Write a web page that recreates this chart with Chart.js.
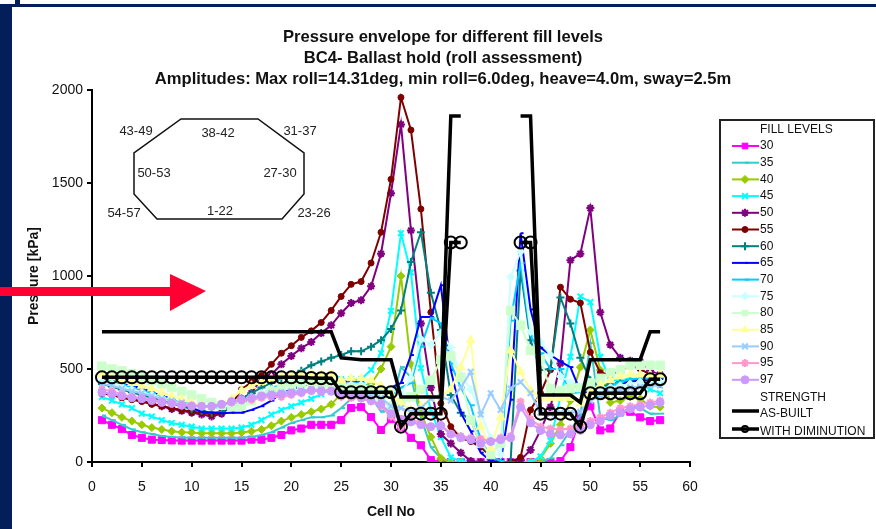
<!DOCTYPE html>
<html>
<head>
<meta charset="utf-8">
<title>Pressure envelope</title>
<script src="https://cdn.jsdelivr.net/npm/chart.js@4"></script>
<style>
    html, body { margin: 0; padding: 0; background: #fff; overflow: hidden; }
    #wrap { position: relative; width: 876px; height: 529px; }
    #myChart { position: absolute; left: 0; top: 0; }
    .navy { position: absolute; background: #041E5A; }
</style>
</head>
<body>
<div id="wrap">
    <div class="navy" style="left:0;top:7px;width:12px;height:522px"></div>
    <div class="navy" style="left:0;top:4px;width:876px;height:3px"></div>
    <div class="navy" style="left:15px;top:0;width:5px;height:4px"></div>
    <canvas id="myChart" width="876" height="529"></canvas>
</div>
<script>
// Номера ячеек и подписи
const cells = Array.from({ length: 57 }, (_, i) => i + 1);
const titleLines = [
    'Pressure envelope for different fill levels',
    'BC4- Ballast hold (roll assessment)',
    'Amplitudes: Max roll=14.31deg, min roll=6.0deg, heave=4.0m, sway=2.5m'
];
const holdLabels = [
    ['43-49', 136, 131], ['38-42', 218, 133], ['31-37', 300, 131], ['50-53', 154, 173],
    ['27-30', 280, 173], ['54-57', 124, 213], ['1-22', 220, 211], ['23-26', 314, 213]
];

// Значения давления
const fill30 = [
    225, 200, 177, 145, 130, 120, 118, 116, 115, 115,
    115, 115, 115, 115, 115, 120, 120, 130, 145, 170,
    180, 200, 200, 200, 225, 290, 295, 242, 172, 230,
    190, 130, 90, 10, 0, 0, 0, 0, 0, 0,
    0, 0, 0, 0, 0, 0, 5, 80, 240, 300,
    170, 180, 270, 270, 240, 220, 225
];
const fill35 = [
    250, 225, 200, 175, 160, 150, 140, 135, 132, 130,
    130, 130, 130, 130, 130, 135, 145, 160, 185, 210,
    225, 240, 240, 250, 290, 340, 360, 350, 270, 300,
    510, 455, 240, 80, 20, 0, 0, 0, 0, 0,
    0, 0, 0, 0, 0, 20, 90, 170, 250, 640,
    240, 225, 250, 300, 290, 260, 260
];
const fill40 = [
    290, 265, 240, 220, 200, 185, 175, 165, 160, 158,
    155, 155, 155, 155, 158, 165, 175, 195, 220, 240,
    255, 270, 285, 310, 365, 400, 400, 420, 500, 620,
    1000, 525, 263, 135, 20, 0, 0, 0, 0, 0,
    0, 0, 0, 0, 20, 100, 200, 330, 510, 710,
    495, 320, 330, 350, 340, 300, 295
];
const fill45 = [
    350, 330, 310, 290, 260, 245, 225, 210, 200, 190,
    180, 180, 180, 180, 185, 200, 225, 255, 280, 300,
    320, 340, 365, 390, 445, 445, 445, 495, 585, 812,
    1230, 1020, 505, 280, 135, 25, 5, 0, 0, 0,
    0, 0, 0, 0, 30, 115, 350, 565, 890, 860,
    565, 440, 440, 450, 420, 390, 370
];
const fill50 = [
    370, 365, 350, 340, 330, 315, 300, 285, 275, 265,
    255, 245, 260, 300, 340, 370, 450, 470, 525, 570,
    612, 645, 693, 735, 800, 855, 870, 945, 1120, 1445,
    1815, 1245, 745, 400, 150, 100, 50, 5, 0, 0,
    0, 0, 10, 65, 170, 295, 530, 1085, 1120, 1365,
    805, 630, 560, 545, 540, 490, 470
];
const fill55 = [
    370, 360, 345, 335, 325, 310, 300, 290, 280, 270,
    265, 255, 265, 310, 390, 430, 465, 525, 585, 625,
    670, 705, 750, 815, 890, 955, 970, 1070, 1235, 1520,
    1960, 1785, 1360, 805, 315, 190, 130, 110, 80, 30,
    0, 0, 25, 280, 370, 495, 940, 875, 855, 590,
    480, 470, 490, 520, 500, 470, 450
];
const fill60 = [
    420, 405, 390, 375, 360, 345, 330, 315, 300, 285,
    275, 265, 270, 300, 340, 370, 400, 425, 450, 470,
    490, 520, 540, 560, 575, 595, 595, 620, 655, 715,
    815, 1075, 1235, 910, 710, 360, 265, 225, 100, 30,
    0, 0, 1030, 655, 495, 500, 885, 745, 560, 440,
    400, 420, 430, 440, 440, 430, 420
];
const fill65 = [
    450, 440, 420, 410, 395, 375, 355, 340, 310, 290,
    270, 265, 262, 265, 265, 280, 300, 330, 370, 390,
    410, 420, 430, 430, 430, 435, 430, 390, 320, 400,
    425, 575, 780, 780, 950, 495, 265, 165, 50, 5,
    0, 335, 1230, 820, 615, 575, 540, 510, 380, 370,
    380, 390, 420, 430, 440, 440, 445
];
const fill70 = [
    450, 435, 420, 400, 385, 370, 350, 335, 320, 310,
    300, 295, 290, 295, 310, 335, 365, 395, 420, 430,
    440, 440, 440, 430, 420, 420, 425, 400, 350, 350,
    400, 425, 620, 775, 745, 530, 400, 305, 120, 30,
    5, 760, 1070, 680, 585, 500, 500, 370, 375, 400,
    390, 410, 430, 445, 450, 450, 455
];
const fill75 = [
    430, 420, 405, 390, 375, 360, 345, 330, 315, 305,
    300, 300, 300, 310, 330, 350, 370, 390, 405, 415,
    420, 420, 420, 415, 415, 415, 415, 400, 385, 385,
    370, 450, 660, 630, 695, 615, 470, 390, 260, 130,
    40, 995, 1130, 700, 645, 575, 460, 430, 400, 400,
    390, 400, 410, 420, 430, 430, 430
];
const fill80 = [
    515, 500, 490, 475, 460, 440, 420, 400, 380, 360,
    340, 320, 305, 300, 300, 330, 355, 380, 400, 415,
    420, 430, 420, 420, 410, 400, 400, 385, 350, 300,
    320, 350, 390, 440, 550, 570, 455, 225, 100, 40,
    100, 815, 735, 600, 550, 395, 385, 395, 400, 425,
    450, 480, 495, 520, 520, 520, 520
];
const fill85 = [
    470, 455, 440, 425, 410, 395, 375, 355, 340, 320,
    305, 300, 310, 340, 385, 410, 430, 450, 460, 470,
    470, 475, 470, 470, 440, 450, 450, 440, 410, 370,
    315, 280, 300, 340, 360, 390, 510, 655, 190, 75,
    240, 600, 485, 385, 345, 345, 345, 345, 315, 375,
    415, 440, 460, 470, 470, 470, 470
];
const fill90 = [
    420, 410, 395, 380, 370, 355, 340, 330, 320, 305,
    300, 295, 305, 320, 335, 345, 360, 370, 375, 380,
    385, 390, 390, 385, 370, 365, 360, 355, 345, 300,
    290, 270, 290, 340, 350, 330, 400, 485, 255, 370,
    280, 395, 430, 370, 265, 260, 265, 265, 270, 330,
    350, 370, 390, 400, 405, 410, 410
];
const fill95 = [
    390, 380, 365, 350, 345, 335, 325, 315, 310, 305,
    300, 300, 310, 320, 330, 335, 345, 350, 350, 360,
    370, 380, 385, 385, 350, 345, 340, 325, 300, 245,
    190, 230, 210, 190, 200, 150, 140, 130, 125, 110,
    130, 140, 325, 230, 190, 180, 175, 180, 190, 220,
    240, 265, 290, 300, 310, 320, 330
];
const fill97 = [
    375, 365, 355, 345, 340, 330, 320, 315, 305, 300,
    300, 300, 310, 325, 335, 345, 355, 360, 365, 370,
    375, 385, 380, 380, 365, 355, 345, 330, 310, 260,
    230, 215, 200, 190, 195, 150, 130, 120, 100, 110,
    120, 130, 295, 210, 170, 150, 145, 150, 170, 200,
    220, 250, 265, 285, 295, 305, 320
];
const asBuilt = [
    700, 700, 700, 700, 700, 700, 700, 700, 700, 700,
    700, 700, 700, 700, 700, 700, 700, 700, 700, 700,
    700, 700, 700, 700, 560, 555, 550, 550, 550, 550,
    350, 350, 350, 350, 350, 1860, 1860, null, null, null,
    null, null, 1860, 1860, 360, 360, 360, 360, 320, 550,
    550, 550, 550, 550, 550, 700, 700
];
const withDiminution = [
    455, 455, 455, 455, 455, 455, 455, 455, 455, 455,
    455, 455, 455, 455, 455, 455, 455, 455, 455, 455,
    455, 452, 450, 450, 375, 375, 375, 375, 375, 375,
    190, 260, 260, 260, 260, 1180, 1180, null, null, null,
    null, null, 1180, 1180, 260, 260, 260, 260, 190, 370,
    370, 370, 370, 370, 370, 445, 445
];

// Функция для создания серии уровня заполнения
function createSeries(label, data, color, pointStyle, radius, lineWidth) {
    return {
        label,
        data,
        borderColor: color,
        backgroundColor: color,
        pointBackgroundColor: color,
        pointBorderColor: color,
        pointStyle,
        pointRadius: radius,
        pointBorderWidth: ['dash', 'crossRot', 'cross', 'star'].includes(pointStyle) ? 2 : 1,
        borderWidth: lineWidth || 2,
        tension: 0,
        spanGaps: false
    };
}

const datasets = [
    createSeries('30', fill30, '#FF00FF', 'rect', 5),
    createSeries('35', fill35, '#33CCCC', 'dash', 4),
    createSeries('40', fill40, '#99CC00', 'rectRot', 4),
    createSeries('45', fill45, '#00FFFF', 'crossRot', 4),
    createSeries('50', fill50, '#800080', 'star', 4),
    createSeries('55', fill55, '#800000', 'circle', 3),
    createSeries('60', fill60, '#008080', 'cross', 4),
    createSeries('65', fill65, '#0000FF', 'dash', 3),
    createSeries('70', fill70, '#00CCFF', 'dash', 4),
    createSeries('75', fill75, '#CCFFFF', 'rectRot', 4),
    createSeries('80', fill80, '#CCFFCC', 'rect', 6),
    createSeries('85', fill85, '#FFFF99', 'triangle', 5),
    createSeries('90', fill90, '#99CCFF', 'crossRot', 4),
    createSeries('95', fill95, '#FF99CC', 'star', 4),
    createSeries('97', fill97, '#CC99FF', 'circle', 4),
    createSeries('AS-BUILT', asBuilt, '#000000', 'circle', 0, 3.5),
    createSeries('WITH DIMINUTION', withDiminution, '#000000', 'circle', 6, 3.5)
];
// Последние серии рисуются поверх
datasets.forEach((d, i) => { d.order = datasets.length - i; });
datasets[16].pointBackgroundColor = 'rgba(0,0,0,0)';
datasets[16].pointBorderWidth = 2;

// Легенда в рамке справа
const boxLegend = {
    id: 'boxLegend',
    afterDraw(chart) {
        const ctx = chart.ctx;
        ctx.save();
        ctx.fillStyle = '#fff';
        ctx.strokeStyle = '#222';
        ctx.lineWidth = 2;
        ctx.fillRect(720, 120, 154, 318);
        ctx.strokeRect(720, 120, 154, 318);
        ctx.font = '12px "Liberation Sans"';
        ctx.textBaseline = 'middle';
        ctx.fillStyle = '#111';
        ctx.fillText('FILL LEVELS', 760, 130);
        ctx.fillText('STRENGTH', 760, 398);
        chart.data.datasets.forEach((d, i) => {
            const strength = i > 14;
            const y = strength ? 414 + (i - 15) * 18 : 146 + i * 16.7;
            const lineY = strength ? y - 3 : y;
            ctx.strokeStyle = d.borderColor;
            ctx.lineWidth = d.borderWidth;
            ctx.beginPath();
            ctx.moveTo(732, lineY);
            ctx.lineTo(759, lineY);
            ctx.stroke();
            if (d.pointRadius > 0) {
                ctx.fillStyle = d.pointBackgroundColor;
                ctx.strokeStyle = d.pointBorderColor;
                ctx.lineWidth = d.pointBorderWidth;
                Chart.helpers.drawPoint(ctx, {
                    pointStyle: d.pointStyle,
                    radius: strength ? 3 : Math.min(d.pointRadius, 4),
                    rotation: 0,
                    borderWidth: d.pointBorderWidth
                }, 745, lineY);
            }
            ctx.fillStyle = '#111';
            ctx.fillText(d.label, 760, y);
        });
        ctx.restore();
    }
};

// Схема трюма и красная стрелка
const holdSketch = {
    id: 'holdSketch',
    afterDraw(chart) {
        const ctx = chart.ctx;
        const outline = [[181, 119], [258, 119], [304, 153], [304, 194], [282, 219], [157, 219], [134, 194], [134, 153]];
        ctx.save();
        ctx.strokeStyle = '#111';
        ctx.lineWidth = 1.5;
        ctx.beginPath();
        outline.forEach((p, i) => (i ? ctx.lineTo(p[0], p[1]) : ctx.moveTo(p[0], p[1])));
        ctx.closePath();
        ctx.stroke();
        ctx.fillStyle = '#222';
        ctx.font = '13px "Liberation Sans"';
        ctx.textAlign = 'center';
        ctx.textBaseline = 'middle';
        holdLabels.forEach(l => ctx.fillText(l[0], l[1], l[2]));

        ctx.fillStyle = '#FF0033';
        ctx.beginPath();
        ctx.moveTo(0, 287);
        ctx.lineTo(170, 287);
        ctx.lineTo(170, 274);
        ctx.lineTo(206, 291);
        ctx.lineTo(170, 311);
        ctx.lineTo(170, 296);
        ctx.lineTo(0, 296);
        ctx.closePath();
        ctx.fill();
        ctx.restore();
    }
};

const axisText = { family: '"Liberation Sans"', size: 14 };
const axisTitleFont = { family: '"Liberation Sans"', size: 14, weight: 'bold' };

new Chart(document.getElementById('myChart').getContext('2d'), {
    type: 'line',
    data: { labels: cells, datasets },
    plugins: [boxLegend, holdSketch],
    options: {
        responsive: false,
        animation: false,
        layout: { padding: { left: 10, right: 0, top: 27, bottom: 8 } },
        plugins: {
            legend: { display: false },
            tooltip: { enabled: false },
            title: {
                display: true,
                text: titleLines,
                color: '#111',
                font: { family: '"Liberation Sans"', size: 16.6, weight: 'bold', lineHeight: 1.265 },
                padding: { top: 0, bottom: 0 }
            }
        },
        scales: {
            x: {
                type: 'linear',
                min: 0,
                max: 60,
                ticks: { stepSize: 5, color: '#111', font: axisText, maxRotation: 0, padding: 12 },
                grid: { drawOnChartArea: false, color: '#000', lineWidth: 2, tickLength: 5 },
                border: { color: '#000', width: 2 },
                title: { display: true, text: 'Cell No', color: '#111', font: axisTitleFont, padding: { top: 8, bottom: 0 } },
                afterFit(scale) { scale.height = 59; }
            },
            y: {
                min: 0,
                max: 2000,
                ticks: { stepSize: 500, color: '#111', font: axisText, padding: 4, callback: v => String(v) },
                grid: { drawOnChartArea: false, color: '#000', lineWidth: 2, tickLength: 5 },
                border: { color: '#000', width: 2 },
                title: { display: true, text: 'Pressure [kPa]', color: '#111', font: axisTitleFont, padding: { top: 16, bottom: 4 } },
                afterFit(scale) { scale.width = 82; }
            },
            // пустая ось держит место под легенду
            spacer: {
                type: 'linear',
                position: 'right',
                display: true,
                ticks: { display: false },
                grid: { display: false },
                border: { display: false },
                afterFit(scale) { scale.width = 186; }
            }
        }
    }
});
</script>
</body>
</html>
